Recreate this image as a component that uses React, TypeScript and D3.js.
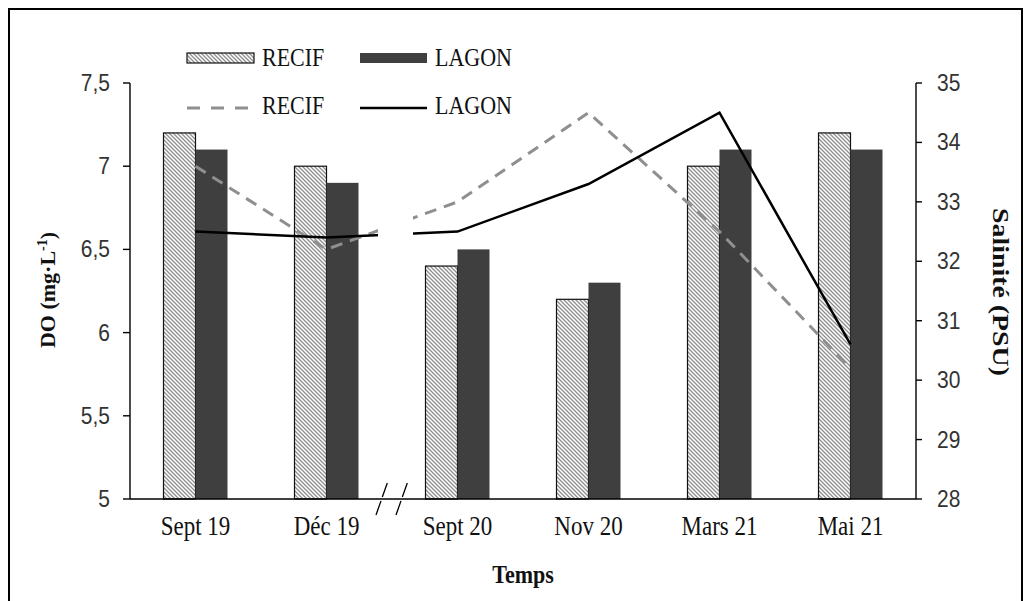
import React, { useEffect, useRef } from 'react';
import * as d3 from 'd3';

const categories = ['Sept 19', 'Déc 19', 'Sept 20', 'Nov 20', 'Mars 21', 'Mai 21'];
const doRecif = [7.2, 7.0, 6.4, 6.2, 7.0, 7.2];
const doLagon = [7.1, 6.9, 6.5, 6.3, 7.1, 7.1];
const salRecif = [33.6, 32.2, 33.0, 34.5, 32.5, 30.2];
const salLagon = [32.5, 32.4, 32.5, 33.3, 34.5, 30.6];
const doTicks = [5, 5.5, 6, 6.5, 7, 7.5];
const salTicks = [28, 29, 30, 31, 32, 33, 34, 35];
const seriesNames = ['RECIF', 'LAGON'];

const W = 1033;
const H = 601;
const SERIF = '"Liberation Serif", "Times New Roman", serif';
const SANS = '"Liberation Sans", Arial, sans-serif';
const STRETCH = 1.15; // the source text is a bit taller than wide

const App: React.FC = () => {
  const svgRef = useRef<SVGSVGElement>(null);

  useEffect(() => {
    if (!svgRef.current) return;
    d3.select(svgRef.current).selectAll('*').remove();

    const svg = d3.select(svgRef.current).attr('width', W).attr('height', H);

    // plot area
    const left = 130;
    const right = 916;
    const top = 83;
    const bottom = 499;

    const x = d3.scaleBand<string>().domain(categories).range([left, right]).padding(0);
    const xSub = d3.scaleBand<string>().domain(seriesNames).range([-32, 32]).padding(0);
    const yL = d3.scaleLinear().domain([5, 7.5]).range([bottom, top]);
    const yR = d3.scaleLinear().domain([28, 35]).range([bottom, top]);
    const cx = (c: string) => (x(c) as number) + x.bandwidth() / 2;

    // hatch pattern for RECIF bars
    const defs = svg.append('defs');
    const pat = defs
      .append('pattern')
      .attr('id', 'hatch')
      .attr('patternUnits', 'userSpaceOnUse')
      .attr('width', 4)
      .attr('height', 4);
    pat.append('rect').attr('width', 4).attr('height', 4).attr('fill', '#fff');
    pat
      .append('path')
      .attr('d', 'M-1,-1 L5,5 M-1,3 L1,5 M3,-1 L5,1')
      .attr('stroke', '#8e8e8e')
      .attr('stroke-width', 1.3);

    // outer frame
    svg
      .append('rect')
      .attr('x', 9)
      .attr('y', 9)
      .attr('width', 1013)
      .attr('height', 640)
      .attr('fill', 'none')
      .attr('stroke', '#000')
      .attr('stroke-width', 2);

    // bars
    const g = svg.append('g');
    categories.forEach((c, i) => {
      g.append('rect')
        .attr('x', cx(c) + (xSub('RECIF') as number))
        .attr('y', yL(doRecif[i]))
        .attr('width', xSub.bandwidth())
        .attr('height', bottom - yL(doRecif[i]))
        .attr('fill', 'url(#hatch)')
        .attr('stroke', '#111')
        .attr('stroke-width', 1.2);
      g.append('rect')
        .attr('x', cx(c) + (xSub('LAGON') as number))
        .attr('y', yL(doLagon[i]))
        .attr('width', xSub.bandwidth())
        .attr('height', bottom - yL(doLagon[i]))
        .attr('fill', '#3f3f3f');
    });

    // salinity lines
    const line = d3
      .line<number>()
      .x((_, i) => cx(categories[i]))
      .y(d => yR(d));

    svg
      .append('path')
      .datum(salRecif)
      .attr('fill', 'none')
      .attr('stroke', '#8f8f8f')
      .attr('stroke-width', 3)
      .attr('stroke-dasharray', '12,8')
      .attr('d', line);

    svg
      .append('path')
      .datum(salLagon)
      .attr('fill', 'none')
      .attr('stroke', '#000')
      .attr('stroke-width', 2.5)
      .attr('d', line);

    // gap in the lines at the axis break
    const breakX = x('Sept 20') as number;
    svg
      .append('rect')
      .attr('x', breakX - 14)
      .attr('y', top + 20)
      .attr('width', 35)
      .attr('height', bottom - top - 40)
      .attr('fill', '#fff');

    // axes
    const axes = svg.append('g').attr('stroke', '#000').attr('stroke-width', 1.4);
    axes.append('line').attr('x1', left).attr('x2', left).attr('y1', top).attr('y2', bottom);
    axes.append('line').attr('x1', right).attr('x2', right).attr('y1', top).attr('y2', bottom);
    axes.append('line').attr('x1', left).attr('x2', right).attr('y1', bottom).attr('y2', bottom);

    doTicks.forEach(t => {
      axes.append('line').attr('x1', left - 7).attr('x2', left).attr('y1', yL(t)).attr('y2', yL(t));
    });
    salTicks.forEach(t => {
      axes.append('line').attr('x1', right).attr('x2', right + 6).attr('y1', yR(t)).attr('y2', yR(t));
    });

    // break marks
    [breakX - 10, breakX + 10].forEach(bx => {
      svg
        .append('line')
        .attr('x1', bx - 6)
        .attr('y1', bottom + 16)
        .attr('x2', bx + 6)
        .attr('y2', bottom - 18)
        .attr('stroke', '#000')
        .attr('stroke-width', 1.3)
        .attr('stroke-dasharray', '15,4');
    });

    const txt = svg.append('g').attr('fill', '#111');

    // horizontal text, slightly stretched vertically like the source
    const label = (
      tx: number,
      ty: number,
      s: string,
      size: number,
      anchor = 'start',
      family = SERIF,
      weight = 'normal',
      fill = '#111'
    ) =>
      txt
        .append('text')
        .attr('transform', `translate(${tx},${ty}) scale(1,${STRETCH})`)
        .attr('text-anchor', anchor)
        .attr('font-family', family)
        .attr('font-size', size)
        .attr('font-weight', weight)
        .attr('fill', fill)
        .text(s);

    // tick labels
    doTicks.forEach(t => {
      label(110, yL(t) + 8, String(t).replace('.', ','), 21, 'end', SANS, 'normal', '#333');
    });
    salTicks.forEach(t => {
      label(937, yR(t) + 8, String(t), 21, 'start', SANS, 'normal', '#333');
    });
    categories.forEach(c => {
      label(cx(c), 535, c, 23, 'middle');
    });

    // axis titles
    label((left + right) / 2, 583, 'Temps', 22, 'middle', SERIF, 'bold');

    const lt = txt
      .append('text')
      .attr('transform', 'translate(55,290) rotate(-90)')
      .attr('text-anchor', 'middle')
      .attr('font-family', SERIF)
      .attr('font-size', 22)
      .attr('font-weight', 'bold');
    lt.append('tspan').text('DO (mg·L');
    lt.append('tspan').attr('dy', -8).attr('font-size', 14).text('-1');
    lt.append('tspan').attr('dy', 8).text(')');

    txt
      .append('text')
      .attr('transform', 'translate(993,292) rotate(90)')
      .attr('text-anchor', 'middle')
      .attr('font-family', SERIF)
      .attr('font-size', 24)
      .attr('font-weight', 'bold')
      .attr('textLength', 168)
      .attr('lengthAdjust', 'spacingAndGlyphs')
      .text('Salinité (PSU)');

    // legend
    const leg = svg.append('g');
    const col1 = 187;
    const col2 = 360;
    const swW = 67;
    leg.append('rect').attr('x', col1).attr('y', 53).attr('width', swW).attr('height', 10)
      .attr('fill', 'url(#hatch)').attr('stroke', '#111').attr('stroke-width', 1.2);
    leg.append('rect').attr('x', col2).attr('y', 53).attr('width', swW).attr('height', 10)
      .attr('fill', '#3f3f3f');
    leg.append('line').attr('x1', col1).attr('x2', col1 + swW).attr('y1', 108).attr('y2', 108)
      .attr('stroke', '#8f8f8f').attr('stroke-width', 3).attr('stroke-dasharray', '13,11');
    leg.append('line').attr('x1', col2).attr('x2', col2 + swW).attr('y1', 108).attr('y2', 108)
      .attr('stroke', '#000').attr('stroke-width', 2.5);

    [[col1, 66], [col2, 66], [col1, 114], [col2, 114]].forEach(([lx, ly], i) => {
      label(lx + swW + 8, ly, seriesNames[i % 2], 22);
    });
  }, []);

  return (
    <svg
      ref={svgRef}
      style={{ position: 'absolute', left: 0, top: 0, background: '#fff' }}
    />
  );
};

export default App;
